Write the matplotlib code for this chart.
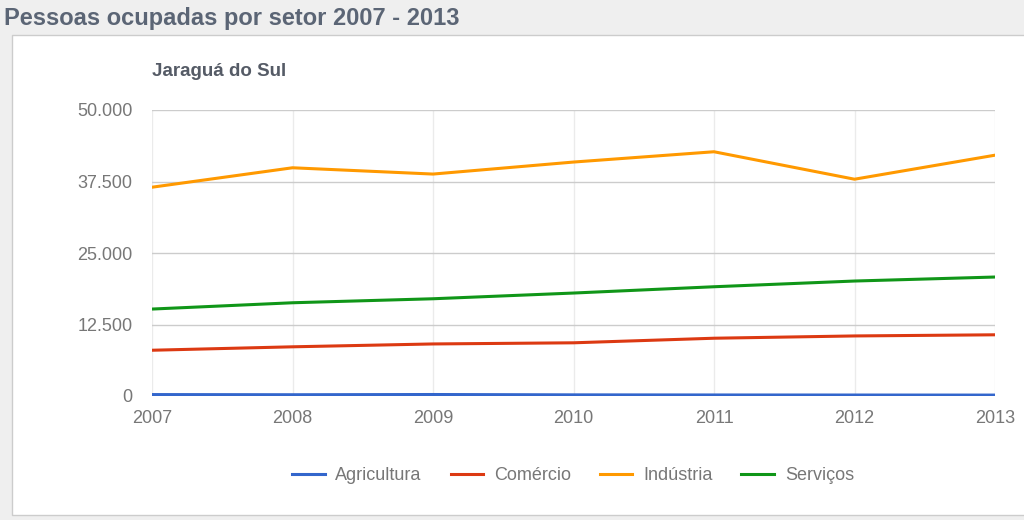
import matplotlib
matplotlib.use("Agg")
import matplotlib.pyplot as plt
from matplotlib.ticker import FuncFormatter
from matplotlib.patches import Rectangle

anos = [2007, 2008, 2009, 2010, 2011, 2012, 2013]
agricultura = [250, 220, 260, 200, 180, 170, 160]
comercio = [8000, 8600, 9100, 9300, 10100, 10500, 10700]
industria = [36500, 39900, 38800, 40900, 42700, 37900, 42100]
servicos = [15200, 16300, 17000, 18000, 19100, 20100, 20800]

series = [
    ("Agricultura", agricultura, "#3366cc"),
    ("Comércio", comercio, "#dc3912"),
    ("Indústria", industria, "#ff9900"),
    ("Serviços", servicos, "#109618"),
]

plt.rcParams['font.family'] = ['Liberation Sans', 'DejaVu Sans']

fig = plt.figure(figsize=(10.24, 5.2), dpi=100)
fig.patch.set_facecolor("#efefef")

# white panel under the header
fig.patches.append(Rectangle((12/1024, 5/520), 1.0, 480/520, transform=fig.transFigure,
                             facecolor="white", edgecolor="#cccccc", linewidth=1, zorder=-10))

fig.text(4/1024, 1 - 18/520, "Pessoas ocupadas por setor 2007 - 2013", fontsize=17,
         fontweight="bold", color="#5b6575", va="center", ha="left")

ax = fig.add_axes([152/1024, 1 - 396/520, 843/1024, 286/520])
ax.set_facecolor("white")

for nome, vals, cor in series:
    ax.plot(anos, vals, color=cor, linewidth=2.2, label=nome, zorder=3)

ax.set_xlim(2007, 2013)
ax.set_ylim(0, 50000)
ax.set_yticks([0, 12500, 25000, 37500, 50000])
ax.set_xticks(anos)
ax.yaxis.set_major_formatter(FuncFormatter(lambda v, p: f"{int(v):,}".replace(",", ".")))

ax.grid(axis="y", color="#cccccc", linewidth=1)
ax.grid(axis="x", color="#ebebeb", linewidth=1)
ax.set_axisbelow(True)
for s in ax.spines.values():
    s.set_visible(False)
ax.tick_params(length=0, labelsize=13, labelcolor="#777777")
ax.tick_params(axis="y", pad=14)
ax.tick_params(axis="x", pad=10)

fig.text(152/1024, 1 - 72/520, "Jaraguá do Sul", fontsize=13.5, fontweight="bold",
         color="#555b66", va="center", ha="left")

leg = fig.legend(loc="center", bbox_to_anchor=(573/1024, 1 - 476/520), ncol=4, frameon=False,
                 fontsize=13, handlelength=1.8, columnspacing=1.6, handletextpad=0.6)
for t in leg.get_texts():
    t.set_color("#777777")

fig.savefig("out.png", dpi=100, facecolor=fig.get_facecolor())
